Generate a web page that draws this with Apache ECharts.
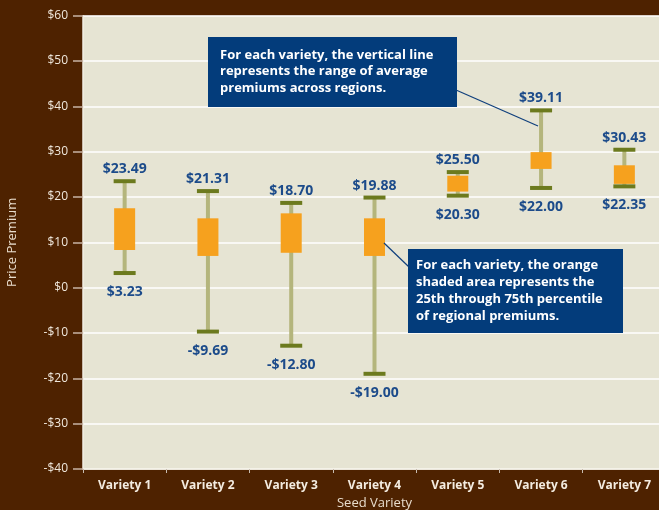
<!DOCTYPE html>
<html><head><meta charset="utf-8">
<script src="https://cdn.jsdelivr.net/npm/echarts@6/dist/echarts.min.js"></script>
<style>html,body{margin:0;padding:0;background:#4e2200;overflow:hidden}#c{width:659px;height:510px}</style>
</head><body><div id="c"></div>
<script>
var categories = ['Variety 1','Variety 2','Variety 3','Variety 4','Variety 5','Variety 6','Variety 7'];
var minVals = [3.23, -9.69, -12.80, -19.00, 20.30, 22.00, 22.35];
var maxVals = [23.49, 21.31, 18.70, 19.88, 25.50, 39.11, 30.43];
var q1Vals = [8.3, 7.0, 7.7, 7.0, 21.2, 26.2, 22.9];
var q3Vals = [17.5, 15.3, 16.4, 15.3, 24.7, 29.9, 27.0];
var yTicks = [-40,-30,-20,-10,0,10,20,30,40,50,60];

function money(v){ return (v<0?'-$':'$') + Math.abs(v).toFixed(2); }
function tickLabel(v){ return (v<0?'-$':'$') + Math.abs(v); }

var data = categories.map(function(c,i){ return [i, minVals[i], q1Vals[i], q3Vals[i], maxVals[i]]; });
var FONT = '"Open Sans", "Noto Sans", sans-serif';
var LBL = '#1c4b8a';

var chart = echarts.init(document.getElementById('c'));
chart.setOption({
  backgroundColor: '#4e2200',
  animation: false,
  grid: { left: 83, top: 15.7, width: 583, height: 453.3, backgroundColor: '#e6e4d3', show: true, borderWidth: 0,
          containLabel: false, outerBoundsMode: 'none' },
  xAxis: {
    type: 'category', data: categories,
    name: 'Seed Variety', nameLocation: 'middle', nameGap: 28,
    nameTextStyle: { color: '#e8dccb', fontSize: 13, fontFamily: FONT },
    axisLine: { onZero: false, lineStyle: { color: '#f2efe4', width: 1.5 } },
    axisTick: { show: true, length: 4, lineStyle: { color: '#c8bcb0' } },
    axisLabel: { color: '#f4ece0', fontSize: 12, fontWeight: 'bold', fontFamily: FONT, margin: 11 },
    splitLine: { show: false }
  },
  yAxis: {
    type: 'value', min: -40, max: 60, interval: 10,
    name: 'Price Premium', nameLocation: 'middle', nameGap: 64, nameRotate: 90,
    nameTextStyle: { color: '#e8dccb', fontSize: 13, fontFamily: FONT },
    axisLine: { show: true, lineStyle: { color: '#f2efe4', width: 1.5 } },
    axisTick: { show: true, length: 10, lineStyle: { color: '#c8b4a4', width: 1.5 } },
    axisLabel: { color: '#f0e8dc', fontSize: 12, fontFamily: FONT, margin: 15,
      formatter: function(v){ return tickLabel(v); } },
    splitLine: { show: true, lineStyle: { color: '#ffffff', width: 1.5 } }
  },
  series: [{
    type: 'custom',
    data: data,
    renderItem: function(params, api){
      var x = api.value(0);
      var pMin = api.coord([x, api.value(1)]);
      var pQ1 = api.coord([x, api.value(2)]);
      var pQ3 = api.coord([x, api.value(3)]);
      var pMax = api.coord([x, api.value(4)]);
      var cx = pMin[0];
      return { type: 'group', children: [
        { type: 'rect', shape: { x: cx-2, y: pMax[1], width: 4, height: pMin[1]-pMax[1] }, style: { fill: '#b4b57c' } },
        { type: 'rect', shape: { x: cx-11, y: pMax[1]-2, width: 22, height: 4 }, style: { fill: '#6c7a1e' } },
        { type: 'rect', shape: { x: cx-11, y: pMin[1]-2, width: 22, height: 4 }, style: { fill: '#6c7a1e' } },
        { type: 'rect', shape: { x: cx-10.5, y: pQ3[1], width: 21, height: pQ1[1]-pQ3[1] }, style: { fill: '#f6a11e' } },
        { type: 'text', style: { x: cx, y: pMax[1]-12, text: money(api.value(4)), fill: LBL, font: 'bold 14px ' + FONT, align: 'center', verticalAlign: 'middle' } },
        { type: 'text', style: { x: cx, y: pMin[1]+19, text: money(api.value(1)), fill: LBL, font: 'bold 14px ' + FONT, align: 'center', verticalAlign: 'middle' } }
      ]};
    },
    z: 5
  }],
  graphic: [
    { type: 'line', shape: { x1: 456, y1: 90, x2: 538, y2: 126 }, style: { stroke: '#0f3f7c', lineWidth: 1.2 }, z: 10 },
    { type: 'rect', shape: { x: 208, y: 37, width: 249, height: 70 }, style: { fill: '#033c7b' }, z: 10 },
    { type: 'text', left: 220, top: 46.5, z: 11, style: { text: 'For each variety, the vertical line\nrepresents the range of average\npremiums across regions.', fill: '#ffffff', font: 'bold 13px ' + FONT, lineHeight: 16.7 } },
    { type: 'line', shape: { x1: 384, y1: 243, x2: 409, y2: 267 }, style: { stroke: '#0f3f7c', lineWidth: 1.2 }, z: 10 },
    { type: 'rect', shape: { x: 408, y: 249, width: 215, height: 84 }, style: { fill: '#033c7b' }, z: 10 },
    { type: 'text', left: 416, top: 256.4, z: 11, style: { text: 'For each variety, the orange\nshaded area represents the\n25th through 75th percentile\nof regional premiums.', fill: '#ffffff', font: 'bold 13px ' + FONT, lineHeight: 17.2 } }
  ]
});
</script></body></html>
